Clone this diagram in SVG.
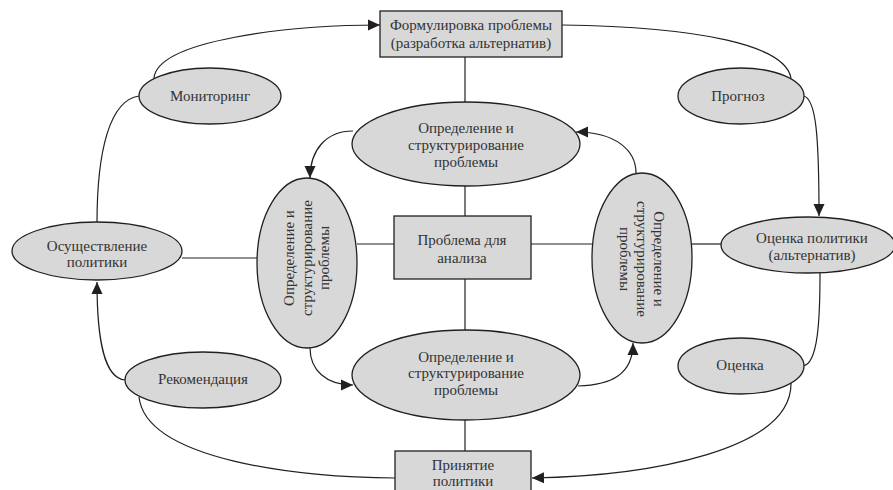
<svg xmlns="http://www.w3.org/2000/svg" width="893" height="490" viewBox="0 0 893 490">
<defs>
<marker id="arr" viewBox="0 0 12 12" refX="12" refY="6" markerWidth="12" markerHeight="12" markerUnits="userSpaceOnUse" orient="auto">
<path d="M0,0.5 L12,6 L0,11.5 Z" fill="#231f20"/>
</marker>
<style>
.n{fill:#d8d8d8;stroke:#231f20;stroke-width:1.3}
.t{font-family:"Liberation Serif","Times New Roman",serif;font-size:15px;fill:#333;text-anchor:middle}
.c{fill:none;stroke:#231f20;stroke-width:1.2}
.a{marker-end:url(#arr)}
</style>
</defs>
<rect width="893" height="490" fill="#fff"/>
<g id="connectors">
<path class="c" d="M465,57 V103"/>
<path class="c" d="M465,186 V216"/>
<path class="c" d="M465,279 V330"/>
<path class="c" d="M465,420 V451"/>
<path class="c" d="M357,244 H394"/>
<path class="c" d="M531,244 H593"/>
<path class="c" d="M692,244 H721"/>
<path class="c" d="M182,258 H257"/>
<path class="c a" d="M154,78 C158,40 290,25 380,25"/>
<path class="c" d="M562,25 C700,27 785,45 791,78"/>
<path class="c a" d="M804,96 C816,100 819,135 819,216"/>
<path class="c" d="M820,273 C820,320 818,364 803,366"/>
<path class="c a" d="M791,383 C792,450 650,476 532,478"/>
<path class="c" d="M139,397 C146,460 300,478 395,478"/>
<path class="c a" d="M125,380 C104,378 97,340 97,282"/>
<path class="c" d="M97,223 C97,150 110,100 139,96"/>
<path class="c a" d="M353,131 C326,131 310,150 310,178"/>
<path class="c a" d="M310,348 C310,370 326,385 353,385"/>
<path class="c a" d="M578,386 C612,385 633,374 633,343"/>
<path class="c a" d="M636,173 C636,150 615,132 576,132"/>
</g>
<g id="formulation">
<rect class="n" x="380" y="11" width="182" height="46"/>
<text class="t" x="471" y="30">Формулировка проблемы</text>
<text class="t" x="471" y="48">(разработка альтернатив)</text>
</g>
<g id="problem">
<rect class="n" x="394" y="216" width="137" height="63"/>
<text class="t" x="462" y="245">Проблема для</text>
<text class="t" x="462" y="263">анализа</text>
</g>
<g id="adoption">
<rect class="n" x="395" y="451" width="136" height="50"/>
<text class="t" x="463" y="470">Принятие</text>
<text class="t" x="463" y="486">политики</text>
</g>
<g id="def-top">
<ellipse class="n" cx="466" cy="144" rx="114" ry="42"/>
<text class="t" x="466" y="133">Определение и</text>
<text class="t" x="466" y="150">структурирование</text>
<text class="t" x="466" y="167">проблемы</text>
</g>
<g id="def-bottom">
<ellipse class="n" cx="466" cy="375" rx="114" ry="45"/>
<text class="t" x="466" y="362">Определение и</text>
<text class="t" x="466" y="378">структурирование</text>
<text class="t" x="466" y="395">проблемы</text>
</g>
<g id="def-left">
<ellipse class="n" cx="307" cy="263" rx="50" ry="85"/>
<g transform="translate(307,258) rotate(-90)">
<text class="t" x="0" y="-13">Определение и</text>
<text class="t" x="0" y="5">структурирование</text>
<text class="t" x="0" y="22">проблемы</text>
</g>
</g>
<g id="def-right">
<ellipse class="n" cx="642" cy="258" rx="50" ry="85"/>
<g transform="translate(642,259) rotate(90)">
<text class="t" x="0" y="-12">Определение и</text>
<text class="t" x="0" y="5">структурирование</text>
<text class="t" x="0" y="22">проблемы</text>
</g>
</g>
<g id="monitoring">
<ellipse class="n" cx="210" cy="96" rx="71" ry="28"/>
<text class="t" x="210" y="101">Мониторинг</text>
</g>
<g id="forecast">
<ellipse class="n" cx="741" cy="96" rx="63" ry="28"/>
<text class="t" x="738" y="101">Прогноз</text>
</g>
<g id="policy-eval">
<ellipse class="n" cx="808" cy="245" rx="87" ry="28"/>
<text class="t" x="812" y="243">Оценка политики</text>
<text class="t" x="812" y="260">(альтернатив)</text>
</g>
<g id="evaluation">
<ellipse class="n" cx="741" cy="366" rx="63" ry="28"/>
<text class="t" x="740" y="370">Оценка</text>
</g>
<g id="implementation">
<ellipse class="n" cx="97" cy="251" rx="85" ry="29"/>
<text class="t" x="97" y="251">Осуществление</text>
<text class="t" x="97" y="267">политики</text>
</g>
<g id="recommendation">
<ellipse class="n" cx="203" cy="380" rx="78" ry="28"/>
<text class="t" x="203" y="384">Рекомендация</text>
</g>
</svg>
